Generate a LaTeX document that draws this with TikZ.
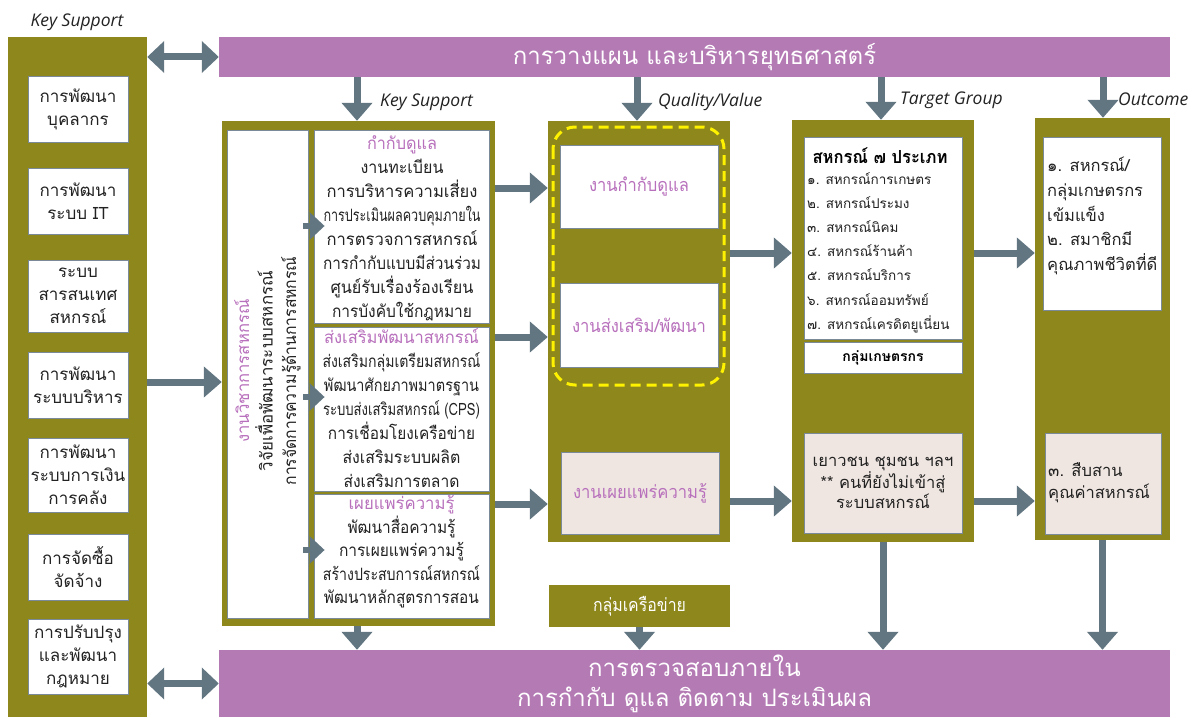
\documentclass[tikz,border=0pt]{standalone}
\usepackage{fontspec}
\usepackage{graphicx}
\setmainfont[Script=Thai]{Loma}
\newfontfamily\latinit{Open Sans}
\usetikzlibrary{arrows.meta,calc}
\definecolor{oliv}{HTML}{8D871C}
\definecolor{barpurple}{HTML}{B47AB4}
\definecolor{arrowc}{HTML}{627682}
\definecolor{txtpurple}{HTML}{B870BC}
\definecolor{pinkfill}{HTML}{EFE6E1}
\definecolor{boxline}{HTML}{7A8A99}
\definecolor{dashy}{HTML}{FFF200}
\definecolor{darktxt}{HTML}{222222}
\newcommand{\fitw}[2]{\resizebox{#1pt}{\height}{#2}}
\newcommand{\ptxt}[1]{\textcolor{txtpurple}{#1}}
\tikzset{
  olivebox/.style={fill=oliv, draw=none, inner sep=0pt},
  whitebox/.style={fill=white, draw=boxline, line width=0.8pt, inner sep=0pt, align=center, text=darktxt},
  pinkbox/.style={fill=pinkfill, draw=boxline, line width=0.8pt, inner sep=0pt, align=center, text=darktxt},
  bar/.style={fill=barpurple, draw=none, inner sep=0pt, align=center, text=white, font=\fontsize{24}{30}\selectfont},
  bodytxt/.style={font=\fontsize{17}{23}\selectfont},
  blocktxt/.style={font=\fontsize{17}{24}\selectfont, align=center, text=darktxt, inner sep=0pt},
  arr/.style={draw=arrowc, line width=7pt, -{Triangle[length=18pt,width=30pt]}},
  dblarr/.style={draw=arrowc, line width=7pt, {Triangle[length=17pt,width=31pt]}-{Triangle[length=17pt,width=31pt]}},
  sarr/.style={draw=arrowc, line width=6pt, -{Triangle[length=15pt,width=27pt]}},
  lbl/.style={font=\latinit\itshape\fontsize{17.5}{20}\selectfont, text=darktxt, inner sep=0pt},
}
\begin{document}
\begin{tikzpicture}[x=1pt,y=-1pt]
\useasboundingbox (0,0) rectangle (1193,717);
\fill[white] (0,0) rectangle (1193,717);

% left column
\node[lbl] (lks) at (77,22) {Key Support};
\node[olivebox, minimum width=139pt, minimum height=680pt] (L) at (77.5,377) {};
\node[whitebox, bodytxt, minimum width=100pt, minimum height=66pt] (b1) at (78,109) {การพัฒนา\\บุคลากร};
\node[whitebox, bodytxt, minimum width=100pt, minimum height=66pt] (b2) at (78,201) {การพัฒนา\\ระบบ IT};
\node[whitebox, bodytxt, minimum width=100pt, minimum height=72pt] (b3) at (78,296) {ระบบ\\สารสนเทศ\\สหกรณ์};
\node[whitebox, bodytxt, minimum width=100pt, minimum height=66pt] (b4) at (78,385) {การพัฒนา\\ระบบบริหาร};
\node[whitebox, bodytxt, minimum width=100pt, minimum height=74pt] (b5) at (78,475) {การพัฒนา\\ระบบการเงิน\\การคลัง};
\node[whitebox, bodytxt, minimum width=100pt, minimum height=66pt] (b6) at (78,567) {การจัดซื้อ\\จัดจ้าง};
\node[whitebox, bodytxt, minimum width=100pt, minimum height=75pt] (b7) at (78,656.5) {การปรับปรุง\\และพัฒนา\\กฎหมาย};

% bars
\node[bar, minimum width=951pt, minimum height=40pt] (T) at (694.5,57) {การวางแผน และบริหารยุทธศาสตร์};
\node[bar, minimum width=951pt, minimum height=67pt] (B) at (694.5,683.5) {การตรวจสอบภายใน\\การกำกับ ดูแล ติดตาม ประเมินผล};

% block 2 : key support
\node[olivebox, minimum width=273pt, minimum height=505pt] (K) at (358.5,373.5) {};
\node[whitebox, minimum width=81pt, minimum height=488pt] (KL) at (267.5,374) {};
\node[rotate=90, font=\fontsize{17}{23.5}\selectfont, align=center, text=darktxt, inner sep=0pt] (klt) at (267.5,371) {\fitw{143}{\ptxt{งานวิชาการสหกรณ์}}\\\fitw{200}{วิจัยเพื่อพัฒนาระบบสหกรณ์}\\\fitw{229}{การจัดการความรู้ด้านการสหกรณ์}};
\node[whitebox, minimum width=175pt, minimum height=193pt] (Ka) at (401.5,226.5) {};
\node[whitebox, minimum width=175pt, minimum height=164pt] (Kb) at (401.5,409) {};
\node[whitebox, minimum width=175pt, minimum height=124pt] (Kc) at (401.5,556) {};
\node[blocktxt] (kat) at (402,228) {\fitw{70}{\ptxt{กำกับดูแล}}\\\fitw{83}{งานทะเบียน}\\\fitw{151}{การบริหารความเสี่ยง}\\\fitw{157}{การประเมินผลควบคุมภายใน}\\\fitw{151}{การตรวจการสหกรณ์}\\\fitw{158}{การกำกับแบบมีส่วนร่วม}\\\fitw{143}{ศูนย์รับเรื่องร้องเรียน}\\\fitw{140}{การบังคับใช้กฎหมาย}};
\node[blocktxt] (kbt) at (401.5,408) {\fitw{155}{\ptxt{ส่งเสริมพัฒนาสหกรณ์}}\\\fitw{158}{ส่งเสริมกลุ่มเตรียมสหกรณ์}\\\fitw{155}{พัฒนาศักยภาพมาตรฐาน}\\\fitw{157}{ระบบส่งเสริมสหกรณ์ (CPS)}\\\fitw{147}{การเชื่อมโยงเครือข่าย}\\\fitw{118}{ส่งเสริมระบบผลิต}\\\fitw{116}{ส่งเสริมการตลาด}};
\node[blocktxt, font=\fontsize{17}{23.5}\selectfont] (kct) at (401.5,552) {\fitw{106}{\ptxt{เผยแพร่ความรู้}}\\\fitw{108}{พัฒนาสื่อความรู้}\\\fitw{125}{การเผยแพร่ความรู้}\\\fitw{157}{สร้างประสบการณ์สหกรณ์}\\\fitw{155}{พัฒนาหลักสูตรการสอน}};

% block 3 : quality
\node[olivebox, minimum width=182pt, minimum height=421pt] (Q) at (639,331.5) {};
\node[whitebox, minimum width=158pt, minimum height=83pt, font=\fontsize{18}{22}\selectfont, text=txtpurple] (Q1) at (639,186.5) {\fitw{100}{งานกำกับดูแล}};
\node[whitebox, minimum width=158pt, minimum height=84pt, font=\fontsize{18}{22}\selectfont, text=txtpurple] (Q2) at (639,325) {\fitw{134}{งานส่งเสริม/พัฒนา}};
\node[pinkbox, minimum width=158pt, minimum height=82pt, font=\fontsize{18}{22}\selectfont, text=txtpurple] (Q3) at (640,493) {\fitw{134}{งานเผยแพร่ความรู้}};
\draw[dashy, line width=3pt, dash pattern=on 10pt off 6pt, rounded corners=22pt] (553,127) rectangle (724,385);
\node[olivebox, minimum width=181pt, minimum height=42pt, text=white, font=\fontsize{18}{22}\selectfont] (N) at (639.5,606) {\fitw{93}{กลุ่มเครือข่าย}};

% block 4 : target
\node[olivebox, minimum width=182pt, minimum height=422pt] (G) at (883,331) {};
\node[whitebox, minimum width=158pt, minimum height=202pt] (G1) at (883,238) {};
\node[font=\bfseries\fontsize{18}{22}\selectfont, text=black, inner sep=0pt] (g1title) at (880,156) {\fitw{135}{สหกรณ์ ๗ ประเภท}};
\node[anchor=north west, align=left, inner sep=0pt, font=\fontsize{13.5}{24.2}\selectfont, text=darktxt] (g1list) at (807,172) {๑. สหกรณ์การเกษตร\\๒. สหกรณ์ประมง\\๓. สหกรณ์นิคม\\๔. สหกรณ์ร้านค้า\\๕. สหกรณ์บริการ\\๖. สหกรณ์ออมทรัพย์\\๗. สหกรณ์เครดิตยูเนี่ยน};
\node[whitebox, minimum width=158pt, minimum height=31pt, font=\bfseries\fontsize{14}{18}\selectfont, text=black] (G2) at (883,357.5) {กลุ่มเกษตรกร};
\node[pinkbox, minimum width=158pt, minimum height=100pt, font=\fontsize{16.5}{20}\selectfont] (G3) at (883,483) {เยาวชน ชุมชน ฯลฯ\\** คนที่ยังไม่เข้าสู่\\ระบบสหกรณ์};

% block 5 : outcome
\node[olivebox, minimum width=135pt, minimum height=422pt] (O) at (1102.5,329) {};
\node[whitebox, minimum width=118pt, minimum height=173pt] (O1) at (1102,223.5) {};
\node[anchor=north west, align=left, inner sep=0pt, font=\fontsize{16.5}{24.7}\selectfont, text=darktxt] (o1t) at (1047,157) {๑. สหกรณ์/\\กลุ่มเกษตรกร\\เข้มแข็ง\\๒. สมาชิกมี\\คุณภาพชีวิตที่ดี};
\node[pinkbox, minimum width=116pt, minimum height=101pt] (O2) at (1103,483.5) {};
\node[anchor=north west, align=left, inner sep=0pt, font=\fontsize{16.5}{22}\selectfont, text=darktxt] (o2t) at (1048,462) {๓. สืบสาน\\คุณค่าสหกรณ์};

% labels near top arrows
\node[lbl, anchor=west] (lk) at (380,102) {Key Support};
\node[lbl, anchor=west] (lq) at (658,102) {Quality/Value};
\node[lbl, anchor=west] (lt) at (900,100) {Target Group};
\node[lbl, anchor=west] (lo) at (1118,99) {Outcome};

% helper coordinates
\coordinate (xk) at (357,0);
\coordinate (xq) at (637,0);
\coordinate (xt) at (881,0);
\coordinate (xo) at (1103,0);
\coordinate (y1) at (0,188);
\coordinate (y2) at (0,337);
\coordinate (y3) at (0,504);
\coordinate (y4) at (0,253);
\coordinate (y5) at (0,501);
\coordinate (y6) at (0,382);
\coordinate (ya) at (0,226);
\coordinate (yb) at (0,397);
\coordinate (yc) at (0,550);

% connectors
\draw[dblarr] (L.east |- T.west) -- (T.west);
\draw[dblarr] (L.east |- B.west) -- (B.west);
\draw[arr] (L.east |- y6) -- (K.west |- y6);
\draw[arr] (xk |- T.south) -- (xk |- K.north);
\draw[arr] (xq |- T.south) -- (xq |- Q.north);
\draw[arr] (xt |- T.south) -- (xt |- G.north);
\draw[arr] (xo |- T.south) -- (xo |- O.north);

\draw[arr] (K.east |- y1) -- (Q.west |- y1);
\draw[arr] (K.east |- y2) -- (Q.west |- y2);
\draw[arr] (K.east |- y3) -- (Q.west |- y3);
\draw[arr] (Q.east |- y4) -- (G.west |- y4);
\draw[arr] (Q.east |- y5) -- (G.west |- y5);
\draw[arr] (G.east |- y4) -- (O.west |- y4);
\draw[arr] (G.east |- y5) -- (O.west |- y5);

\draw[sarr] ($(KL.east |- ya)+(-5,0)$) -- ($(Ka.west |- ya)+(11,0)$);
\draw[sarr] ($(KL.east |- yb)+(-5,0)$) -- ($(Kb.west |- yb)+(11,0)$);
\draw[sarr] ($(KL.east |- yc)+(-5,0)$) -- ($(Kc.west |- yc)+(11,0)$);

\draw[arr] (xk |- K.south) -- (xk |- B.north);
\draw[arr] (N.south) -- (N.south |- B.north);
\draw[arr] (G.south) -- (G.south |- B.north);
\draw[arr] (O.south) -- (O.south |- B.north);
\end{tikzpicture}
\end{document}
